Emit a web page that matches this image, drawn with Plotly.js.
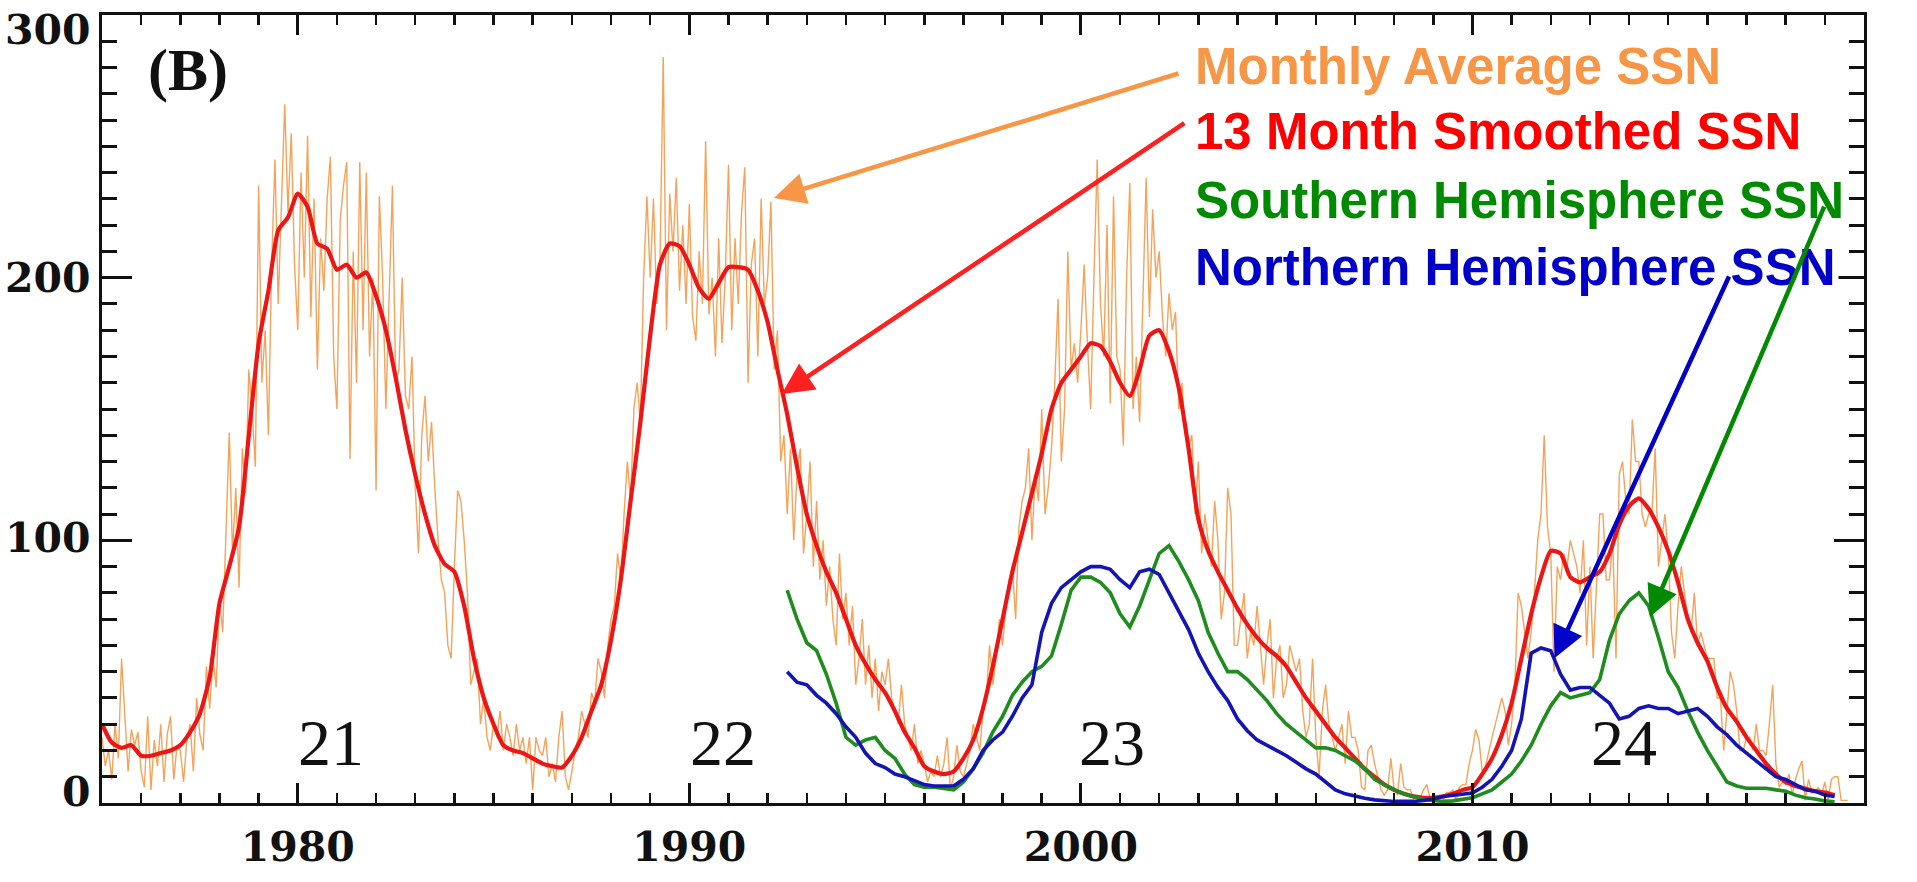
<!DOCTYPE html>
<html>
<head>
<meta charset="utf-8">
<script src="https://cdn.plot.ly/plotly-3.0.1.min.js"></script>
<style>
html,body{margin:0;padding:0;background:#fff;}
#chart{width:1917px;height:882px;}
</style>
</head>
<body>
<div id="chart"></div>
<script>
// ---------------- DATA ----------------
// Monthly average sunspot number, one row per year, starting Jan 1975
const monthlyStart = 1975;
const monthlySSN = [
  25, 14, 20, 9, 30, 17, 55, 33, 12, 28, 22, 27,          // 1975
  12, 6, 33, 5, 24, 14, 30, 8, 26, 33, 9, 22,             // 1976
  20, 8, 24, 30, 12, 40, 26, 20, 52, 36, 55, 44,          // 1977
  78, 65, 105, 141, 95, 120, 82, 135, 118, 165, 150, 128, // 1978
  235, 160, 180, 140, 205, 245, 190, 230, 266, 225, 255, 205, // 1979
  180, 240, 200, 254, 185, 230, 165, 215, 195, 230, 246, 170, // 1980
  150, 222, 235, 244, 131, 210, 160, 244, 180, 240, 170, 200, // 1981
  119, 231, 200, 150, 195, 235, 160, 165, 200, 155, 150, 170, // 1982
  120, 95, 140, 155, 130, 145, 120, 100, 85, 80, 60, 55,  // 1983
  90, 119, 115, 100, 80, 45, 50, 55, 30, 40, 25, 20,      // 1984
  30, 25, 35, 20, 30, 25, 18, 30, 20, 25, 15, 25,         // 1985
  5, 25, 20, 18, 25, 10, 15, 8, 25, 35, 10, 5,            // 1986
  12, 20, 25, 35, 30, 25, 42, 38, 55, 50, 40, 60,         // 1987
  70, 75, 95, 85, 110, 130, 115, 150, 160, 145, 200, 231, // 1988
  200, 230, 190, 205, 284, 180, 232, 210, 238, 195, 220, 190, // 1989
  228, 185, 176, 210, 190, 252, 186, 200, 170, 215, 175, 200, // 1990
  243, 180, 215, 190, 225, 242, 160, 205, 215, 170, 230, 190, // 1991
  200, 229, 165, 180, 130, 140, 110, 135, 100, 125, 135, 95,  // 1992
  110, 130, 90, 115, 85, 100, 75, 90, 70, 60, 95, 70,     // 1993
  80, 60, 75, 45, 55, 70, 45, 60, 40, 55, 35, 50,         // 1994
  45, 55, 40, 35, 30, 45, 30, 25, 20, 30, 15, 20,         // 1995
  15, 8, 12, 10, 18, 10, 15, 25, 5, 10, 22, 12,           // 1996
  10, 15, 20, 30, 25, 20, 35, 40, 60, 45, 55, 70,         // 1997
  60, 75, 85, 90, 70, 105, 115, 120, 135, 100, 125, 115,  // 1998
  150, 110, 120, 135, 160, 192, 130, 150, 210, 165, 175, 160, // 1999
  180, 205, 175, 150, 200, 245, 190, 170, 220, 152, 231, 170, // 2000
  165, 136, 200, 236, 150, 170, 145, 195, 238, 185, 226, 200, // 2001
  210, 185, 170, 194, 180, 187, 150, 160, 140, 135, 140, 110, // 2002
  130, 95, 110, 100, 90, 115, 100, 70, 80, 120, 110, 60,  // 2003
  60, 70, 80, 55, 65, 60, 75, 60, 45, 60, 70, 40,         // 2004
  55, 60, 40, 45, 60, 55, 50, 55, 35, 25, 30, 55,         // 2005
  25, 10, 35, 45, 30, 25, 20, 25, 30, 15, 35, 25,         // 2006
  25, 20, 6, 5, 20, 22, 15, 10, 5, 3, 5, 17,              // 2007
  5, 3, 15, 6, 5, 5, 1, 0, 2, 5, 7, 2,                    // 2008
  2, 2, 1, 1, 4, 4, 5, 1, 6, 7, 7, 15,                    // 2009
  20, 28, 24, 12, 14, 20, 25, 30, 35, 40, 35, 22,         // 2010
  30, 45, 80, 75, 65, 55, 65, 80, 100, 110, 140, 105,     // 2011
  95, 50, 90, 85, 95, 90, 100, 95, 90, 80, 100, 60,       // 2012
  90, 55, 80, 110, 110, 85, 85, 100, 55, 125, 130, 115,   // 2013
  110, 146, 130, 130, 110, 105, 110, 110, 135, 90, 100, 110, // 2014
  95, 65, 55, 75, 90, 80, 70, 65, 80, 60, 65, 60,         // 2015
  55, 55, 55, 40, 40, 20, 35, 50, 45, 35, 20, 20,         // 2016
  25, 25, 20, 30, 20, 20, 18, 30, 45, 15, 6, 8,           // 2017
  7, 11, 3, 9, 13, 16, 1, 9, 4, 4, 6, 3,                  // 2018
  8, 1, 9, 10, 10, 1, 1, 1                                // 2019
];

// 13-month smoothed SSN, quarterly samples starting 1975.0
const smoothedStart = 1975;
const smoothedSSN = [
  30, 23, 21, 22,   18, 18, 19, 20,   22, 27, 34, 48,   76, 90, 105, 140,
  175, 195, 218, 223,   232, 227, 213, 211,   203, 205, 200, 202,   193, 180, 162, 142,
  125, 110, 98, 91,   88, 75, 55, 40,   30, 22, 20, 19,   17, 15, 14, 13.5,
  18, 25, 35, 45,   62, 85, 115, 145,   178, 205, 213, 212,   205, 196, 192, 198,
  204, 204, 203, 195,   183, 165, 148, 128,   110, 98, 88, 80,   70, 60, 53, 47,
  42, 35, 27, 21,   14, 12, 11, 12,   17, 24, 36, 52,   70, 88, 103, 118,
  133, 150, 160, 165,   170, 175, 174, 168,   160, 155, 165, 178,   180, 172, 158, 135,
  108, 96, 88, 81,   74, 68, 63, 59,   56, 52, 46, 40,   35, 30, 25, 21,
  17, 13, 10, 7,   5, 3.5, 2.5, 2,   2, 2.5, 3.5, 5,   6, 11, 17, 26,
  38, 55, 72, 86,   96, 95, 86, 84,   86, 88, 95, 106,   113, 116, 112, 105,
  96, 84, 70, 61,   54, 44, 36, 31,   25, 20, 15, 11,   8, 6.5, 5.5, 4.5,
  4, 3
];

// Hemispheric SSN (13-month smoothed), quarterly samples starting 1992.5
const hemiStart = 1992.5;
const northSSN = [
  50, 46,
  45, 41, 38, 34,   29, 25, 19, 15,   13.5, 11, 10, 8.5,   7, 6.5, 6.5, 6.5,
  9, 13, 20, 24,   27, 33, 40, 45,   65, 76, 82, 85,   88, 90, 90, 89,
  85, 82, 88, 89,   87, 80, 73, 66,   57, 50, 44, 39,   32, 27.5, 24, 22,
  20, 18, 15.5, 13,   11, 8, 5, 3.5,   2.5, 1.8, 1.2, 0.8,   0.6, 0.6, 0.6, 1,
  1.5, 2.5, 3, 3.5,   3.8, 6, 9, 14,   20, 32, 57, 59,   58, 49, 43, 44,
  44, 41, 38, 32,   33, 36, 37, 36,   36, 34, 35, 36,   33, 29, 26, 22,
  19, 16, 13, 10,   9, 7, 5, 4.5,   3, 2.5
];
const southSSN = [
  81, 70,
  61, 58, 49, 38,   25, 22, 24, 25,   20, 17, 11, 7,   6, 6, 5.5, 5,
  8, 13, 19, 27,   33, 41, 46, 50,   52, 56, 68, 81,   86, 86, 84, 80,
  72, 67, 75, 85,   95, 98, 92, 85,   77, 65, 57, 50,   50, 47, 43, 39,
  34, 30, 27, 24,   21, 21, 20, 18,   16, 13, 9, 7,   5, 3.5, 2.5, 1.3,
  1, 0.6, 0.8, 1.5,   2, 3.5, 5, 8,   11, 16, 22, 30,   37, 42, 40, 41,
  42, 47, 62, 72,   77, 80, 75, 63,   50, 44, 35, 27,   20, 14, 8, 6.5,
  5.6, 5.6, 5.6, 5,   4.5, 3, 2, 1.5,   0.8, 0.5
];

// Labels
const cycleLabels = ['21', '22', '23', '24'];
const cycleYears = [1980.85, 1990.86, 2000.8, 2013.86];
const cycleLevel = [23, 23, 23, 23];
const seriesNames = ['Monthly Average SSN', '13 Month Smoothed SSN', 'Southern Hemisphere SSN', 'Northern Hemisphere SSN'];
const xTickVals = [1980, 1990, 2000, 2010, 2020];
const yTickVals = [0, 100, 200, 300];
const yTickShift = [11, 2, 0, -15];   // label nudges as in the reference (pixels)

// ---------------- BUILD ----------------
const monthlyX = monthlySSN.map((v, i) => monthlyStart + i / 12);
const smoothedX = smoothedSSN.map((v, i) => smoothedStart + i / 4);
const northX = northSSN.map((v, i) => hemiStart + i / 4);
const southX = southSSN.map((v, i) => hemiStart + i / 4);

const cOrange = '#F79646';
const cOrangeLine = '#F5A35A';
const cRed = '#EE1515';
const cGreen = '#1E8C1E';
const cBlue = '#1414B4';
const tickFont = {family: 'DejaVu Serif', size: 41, color: '#111', weight: 'bold'};

const traces = [
  {x: monthlyX, y: monthlySSN, type: 'scatter', mode: 'lines', name: seriesNames[0],
   line: {color: cOrangeLine, width: 1.4}, hoverinfo: 'skip'},
  {x: smoothedX, y: smoothedSSN, type: 'scatter', mode: 'lines', name: seriesNames[1],
   line: {color: cRed, width: 4.2, shape: 'spline', smoothing: 0.6}, hoverinfo: 'skip'},
  {x: southX, y: southSSN, type: 'scatter', mode: 'lines', name: seriesNames[2],
   line: {color: cGreen, width: 3.6}, hoverinfo: 'skip'},
  {x: northX, y: northSSN, type: 'scatter', mode: 'lines', name: seriesNames[3],
   line: {color: cBlue, width: 3.6}, hoverinfo: 'skip'}
];

const annotations = [];
// y tick labels (as text, nudged like the reference)
yTickVals.forEach((v, i) => annotations.push({
  x: 0, xref: 'paper', y: v, yref: 'y', xanchor: 'right', yanchor: 'middle',
  xshift: -9, yshift: yTickShift[i], text: String(v), showarrow: false, font: tickFont
}));
// cycle numbers
cycleLabels.forEach((t, i) => annotations.push({
  x: cycleYears[i], y: cycleLevel[i], xref: 'x', yref: 'y', text: t, showarrow: false,
  font: {family: 'Liberation Serif', size: 66, color: '#111'}
}));
// panel letter
annotations.push({x: 1977.2, y: 279, xref: 'x', yref: 'y', text: '(B)', showarrow: false,
  font: {family: 'Liberation Serif', size: 60, color: '#111', weight: 'bold'}});

// legend texts
const legendColors = [cOrange, '#FF0000', '#008A00', '#0000C8'];
const legendY = [280.5, 255.5, 229.5, 204];
seriesNames.forEach((t, i) => annotations.push({
  x: 2002.85, y: legendY[i], xref: 'x', yref: 'y', xanchor: 'left', yanchor: 'middle',
  text: t, showarrow: false, bgcolor: '#ffffff', borderpad: 2,
  font: {family: 'Liberation Sans', size: 51, color: legendColors[i], weight: 'bold'}
}));

// arrows: [headX, headY, tailX, tailY, color]
const arrows = [
  [1992.16, 230.3, 2002.53, 277.9, cOrange],
  [1992.36, 155.7, 2002.68, 259.2, '#FF2020'],
  [2012.1, 55.2, 2016.57, 201, '#0000C8'],
  [2014.53, 70.8, 2019.0, 227.6, '#008A00']
];
arrows.forEach(a => annotations.push({
  x: a[0], y: a[1], ax: a[2], ay: a[3], xref: 'x', yref: 'y', axref: 'x', ayref: 'y',
  text: '', showarrow: true, arrowhead: 2, arrowsize: 1.4, arrowwidth: 4.5, arrowcolor: a[4]
}));

const layout = {
  width: 1917, height: 882,
  margin: {l: 102, r: 53, t: 15, b: 79},
  paper_bgcolor: '#ffffff', plot_bgcolor: '#ffffff',
  showlegend: false,
  xaxis: {
    range: [1975, 2020], tickvals: xTickVals, ticktext: xTickVals.map(String),
    showgrid: false, zeroline: false, showline: true, linecolor: '#111', linewidth: 3,
    mirror: 'ticks', ticks: 'inside', ticklen: 20, tickwidth: 3, tickcolor: '#111',
    minor: {dtick: 1, tick0: 1975, ticks: 'inside', ticklen: 10, tickwidth: 2.5, tickcolor: '#111', showgrid: false},
    tickfont: tickFont,
    ticklabelstandoff: 6
  },
  yaxis: {
    range: [0, 300], tickvals: yTickVals, showticklabels: false,
    showgrid: false, zeroline: false, showline: true, linecolor: '#111', linewidth: 3,
    mirror: 'ticks', ticks: 'inside', ticklen: 30, tickwidth: 3, tickcolor: '#111',
    minor: {dtick: 10, tick0: 0, ticks: 'inside', ticklen: 15, tickwidth: 3, tickcolor: '#111', showgrid: false}
  },
  annotations: annotations
};

Plotly.newPlot('chart', traces, layout, {displayModeBar: false, staticPlot: true});
</script>
</body>
</html>
